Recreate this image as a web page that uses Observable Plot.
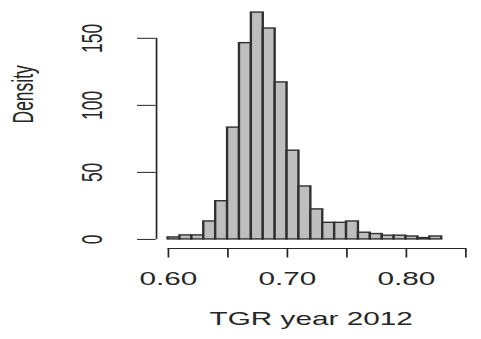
<!DOCTYPE html>
<html>
<head>
<meta charset="utf-8">
<script src="https://cdn.jsdelivr.net/npm/d3@7"></script>
<script src="https://cdn.jsdelivr.net/npm/@observablehq/plot@0.6"></script>
<style>
  html, body { margin: 0; padding: 0; background: #fff; }
  #chart { width: 481px; height: 339px; overflow: hidden; }
</style>
</head>
<body>
<div id="chart"></div>
<script>
// Histogram bin edges and densities
const breaks = [0.60, 0.61, 0.62, 0.63, 0.64, 0.65, 0.66, 0.67, 0.68, 0.69, 0.70, 0.71,
                0.72, 0.73, 0.74, 0.75, 0.76, 0.77, 0.78, 0.79, 0.80, 0.81, 0.82, 0.83];
const density = [1.5, 3, 3, 13.4, 28.5, 83.4, 146.4, 169.2, 157.3, 117.1, 66.2, 39.5,
                 22.4, 12.4, 12.4, 13.4, 5, 4, 2.8, 2.8, 2.2, 1, 2.2];
const xTicks = [0.60, 0.65, 0.70, 0.75, 0.80, 0.85];
const xTickLabels = [0.60, 0.70, 0.80];
const yTicks = [0, 50, 100, 150];
const xLabel = "TGR year 2012";
const yLabel = "Density";

const bars = density.map((d, i) => ({x1: breaks[i], x2: breaks[i + 1], y: d}));

// R-style axis extents (4% padding)
const xlim = [xTicks[0], xTicks[xTicks.length - 1]];
const xPad = 0.04 * (xlim[1] - xlim[0]);
const xDomain = [xlim[0] - xPad, xlim[1] + xPad];
const yMax = d3.max(density);
const yDomain = [-0.04 * yMax, 1.04 * yMax];

const W = 283, H = 339;
const ink = "#262626";
const fmt = d3.format(".2f");

const svg = Plot.plot({
  width: W,
  height: H,
  marginLeft: 91.6,
  marginRight: 2.4,
  marginTop: 3,
  marginBottom: 91,
  x: {domain: xDomain},
  y: {domain: yDomain},
  style: {fontFamily: "'Liberation Sans', Arial, sans-serif", fontSize: "17.5px", color: ink, background: "white"},
  marks: [
    Plot.rect(bars, {x1: "x1", x2: "x2", y1: 0, y2: "y", fill: "#bebebe", stroke: "#303030", strokeWidth: 1.4}),
    Plot.ruleY([yDomain[0]], {x1: xlim[0], x2: xlim[1], stroke: ink, strokeWidth: 1}),
    Plot.ruleX([xDomain[0]], {y1: yTicks[0], y2: yTicks[yTicks.length - 1], stroke: ink, strokeWidth: 1}),
    Plot.axisX(xTicks, {tickSize: 9.5, tickPadding: 15, tickFormat: d => xTickLabels.includes(d) ? fmt(d) : "", label: null, fontSize: 17.5}),
    Plot.axisY(yTicks, {tickSize: 11, tickRotate: -90, tickPadding: 21, tickFormat: d => String(d), label: null, fontSize: 17.5}),
    Plot.text([xLabel], {text: d => d, frameAnchor: "bottom", dy: 76.5, dx: -3.5, fontSize: 17.5, fill: ink}),
    Plot.text([yLabel], {text: d => d, frameAnchor: "left", rotate: -90, dx: -78, dy: -2.5, fontSize: 17.5, fill: ink})
  ]
});

// Horizontal stretch as in the reference image
svg.setAttribute("width", 481);
svg.setAttribute("height", 339);
svg.setAttribute("viewBox", `0 0 ${W} ${H}`);
svg.setAttribute("preserveAspectRatio", "none");
svg.style.width = "481px";
svg.style.height = "339px";
svg.style.maxWidth = "none";
document.getElementById("chart").appendChild(svg);
</script>
</body>
</html>
